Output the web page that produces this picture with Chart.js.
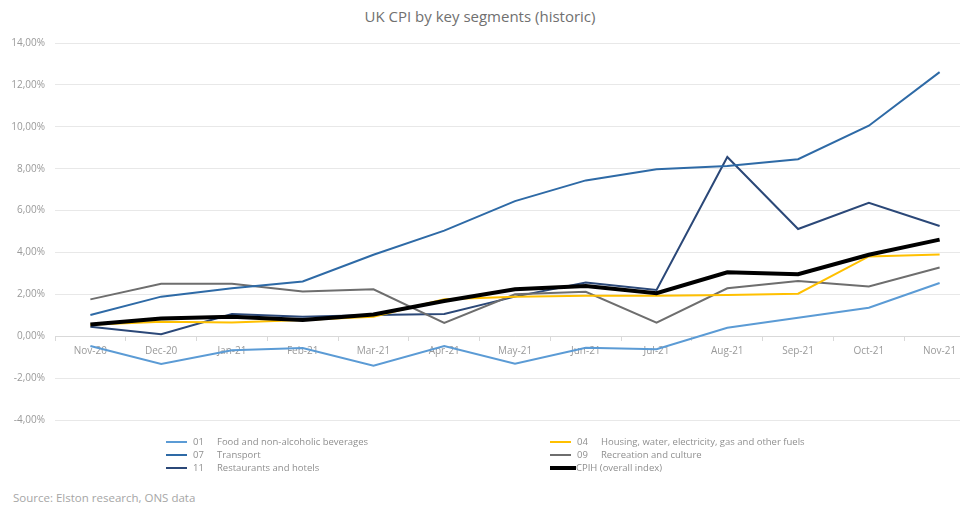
<!DOCTYPE html>
<html>
<head>
<meta charset="utf-8">
<script src="https://cdn.jsdelivr.net/npm/chart.js@4"></script>
<style>
  html, body { margin: 0; padding: 0; background: #fff; overflow: hidden; width: 960px; height: 507px; }
  body { position: relative; font-family: "Open Sans", "Noto Sans", sans-serif; }
  #title { position: absolute; left: 0; width: 960px; top: 6px; text-align: center; font-size: 15px; color: #707070; }
  #wrap { position: absolute; left: 0; top: 0; width: 975px; height: 436px; }
  #legend { position: absolute; left: 0; top: 435px; width: 960px; height: 42px; font-size: 9.5px; color: #8f8f8f; }
  .item { position: absolute; height: 13px; line-height: 13px; white-space: nowrap; }
  .swatch { position: absolute; width: 21px; }
  .code { position: absolute; left: 27px; }
  .name { position: absolute; }
  #source { position: absolute; left: 13px; top: 490px; font-size: 11.5px; color: #a6a6a6; }
</style>
</head>
<body>
<div id="title">UK CPI by key segments (historic)</div>
<div id="wrap"><canvas id="chart"></canvas></div>
<div id="legend"></div>
<div id="source">Source: Elston research, ONS data</div>
<script>
const months = ['Nov-20', 'Dec-20', 'Jan-21', 'Feb-21', 'Mar-21', 'Apr-21', 'May-21',
  'Jun-21', 'Jul-21', 'Aug-21', 'Sep-21', 'Oct-21', 'Nov-21'];

// annual change, %
const food = [-0.47, -1.33, -0.67, -0.56, -1.41, -0.47, -1.31, -0.55, -0.62, 0.40, 0.88, 1.36, 2.54];
const housing = [0.55, 0.69, 0.65, 0.77, 0.93, 1.76, 1.89, 1.93, 1.93, 1.97, 2.03, 3.81, 3.90];
const transport = [1.01, 1.89, 2.29, 2.61, 3.89, 5.04, 6.45, 7.44, 7.97, 8.13, 8.45, 10.05, 12.61];
const recreation = [1.76, 2.51, 2.51, 2.13, 2.24, 0.64, 2.00, 2.12, 0.65, 2.29, 2.64, 2.38, 3.28];
const restaurants = [0.45, 0.10, 1.06, 0.93, 1.01, 1.06, 1.89, 2.57, 2.21, 8.56, 5.12, 6.37, 5.26];
const cpih = [0.56, 0.85, 0.93, 0.77, 1.04, 1.68, 2.24, 2.40, 2.05, 3.05, 2.96, 3.89, 4.61];

const series = [
  { code: '01', name: 'Food and non-alcoholic beverages', data: food, color: '#5b9bd5', width: 2, col: 0, row: 0 },
  { code: '04', name: 'Housing, water, electricity, gas and other fuels', data: housing, color: '#ffc000', width: 2, col: 1, row: 0 },
  { code: '07', name: 'Transport', data: transport, color: '#2e6aa6', width: 2, col: 0, row: 1 },
  { code: '09', name: 'Recreation and culture', data: recreation, color: '#6e6e6e', width: 2, col: 1, row: 1 },
  { code: '11', name: 'Restaurants and hotels', data: restaurants, color: '#2b4878', width: 2, col: 0, row: 2 },
  { code: '', name: 'CPIH (overall index)', data: cpih, color: '#000000', width: 4, col: 1, row: 2 }
];

const ctx = document.getElementById('chart');

const chart = new Chart(ctx, {
  type: 'line',
  data: {
    labels: months,
    datasets: series.map((s, i) => ({
      label: (s.code ? s.code + '  ' : '') + s.name,
      data: s.data,
      borderColor: s.color,
      backgroundColor: s.color,
      borderWidth: s.width,
      pointRadius: 0,
      tension: 0,
      order: s.code ? i + 1 : 0
    }))
  },
  options: {
    responsive: true,
    maintainAspectRatio: false,
    animation: false,
    layout: { padding: { top: 43, bottom: 7, left: 0, right: 0 } },
    plugins: {
      legend: { display: false },
      tooltip: { enabled: false }
    },
    scales: {
      x: {
        type: 'category',
        position: { y: 0 },
        offset: true,
        grid: { drawOnChartArea: false, drawTicks: true, tickLength: 4, color: '#d9d9d9', offset: true },
        border: { color: '#d9d9d9' },
        ticks: { color: '#9a9a9a', font: { family: 'Open Sans', size: 10 }, padding: 5, maxRotation: 0, autoSkip: false }
      },
      y: {
        min: -4,
        max: 14,
        grid: { color: '#e8e8e8', drawTicks: false },
        border: { display: false },
        afterFit: (scale) => { scale.width = 55; },
        ticks: {
          stepSize: 2,
          padding: 10,
          color: '#9a9a9a',
          font: { family: 'Open Sans', size: 10 },
          callback: (v) => v.toFixed(2).replace('.', ',') + '%'
        }
      }
    }
  }
});

// two-column legend under the chart
const legend = document.getElementById('legend');
const colX = [166, 550];
series.forEach((s) => {
  const item = document.createElement('div');
  item.className = 'item';
  item.style.left = colX[s.col] + 'px';
  item.style.top = (s.row * 13) + 'px';
  const sw = document.createElement('div');
  sw.className = 'swatch';
  sw.style.borderTop = (s.code ? 2 : 4) + 'px solid ' + s.color;
  sw.style.top = (s.code ? 6 : 5) + 'px';
  sw.style.width = (s.code ? 21 : 26) + 'px';
  item.appendChild(sw);
  if (s.code) {
    const c = document.createElement('span');
    c.className = 'code';
    c.textContent = s.code;
    item.appendChild(c);
  }
  const n = document.createElement('span');
  n.className = 'name';
  n.style.left = s.code ? '51px' : '26px';
  n.textContent = s.name;
  item.appendChild(n);
  legend.appendChild(item);
});
</script>
</body>
</html>
